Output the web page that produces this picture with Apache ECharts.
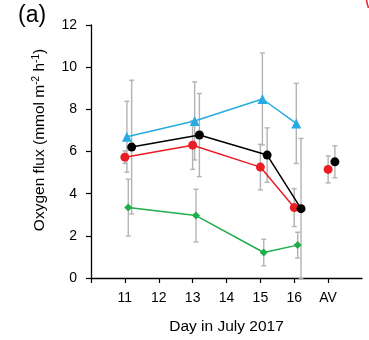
<!DOCTYPE html>
<html>
<head>
<meta charset="utf-8">
<script src="https://cdn.jsdelivr.net/npm/echarts@6/dist/echarts.min.js"></script>
<style>
    html, body { margin: 0; padding: 0; background: #fff; }
    #chart { width: 369px; height: 340px; }
</style>
</head>
<body>
<div id="chart"></div>
<script>
    // Tick positions and labels on the day axis (17 = average "AV")
    const dayTicks = [10, 11, 12, 13, 14, 15, 16, 17];
    const dayLabelValues = [11, 12, 13, 14, 15, 16, 17];
    const dayLabels = { 11: '11', 12: '12', 13: '13', 14: '14', 15: '15', 16: '16', 17: 'AV' };

    const sampleDays = [11, 13, 15, 16];
    const avDay = 17;

    // Mean and error values
    const redMean = [5.73, 6.30, 5.26, 3.34];
    const redErr = [0.30, 1.15, 1.08, 0.90];
    const redAv = [5.15];
    const redAvErr = [0.64];

    const blackMean = [6.21, 6.78, 5.83, 3.29];
    const blackErr = [3.17, 1.97, 1.29, 3.33];
    const blackAv = [5.51];
    const blackAvErr = [0.76];

    const blueMean = [6.70, 7.45, 8.49, 7.33];
    const blueErr = [1.68, 1.85, 2.18, 1.90];

    const greenMean = [3.34, 2.96, 1.21, 1.56];
    const greenErr = [1.35, 1.25, 0.63, 0.61];

    // small horizontal shifts so the groups don't overlap
    const shift = { red: 0, blue: 0.06, green: 0.1, black: 0.2 };
    const colors = { red: '#ec1c24', blue: '#29abe2', green: '#1fae4b', black: '#000000' };

    function pts(days, vals, dx) {
        return days.map((d, i) => [d + dx, vals[i]]);
    }
    function bars(days, vals, errs, dx) {
        return days.map((d, i) => [d + dx, vals[i] - errs[i], vals[i] + errs[i]]);
    }

    const barData = [].concat(
        bars(sampleDays, blueMean, blueErr, shift.blue),
        bars(sampleDays, redMean, redErr, shift.red),
        bars([avDay], redAv, redAvErr, shift.red),
        bars(sampleDays, greenMean, greenErr, shift.green),
        bars(sampleDays, blackMean, blackErr, shift.black),
        bars([avDay], blackAv, blackAvErr, shift.black)
    );

    function renderErrorBar(params, api) {
        const hi = api.coord([api.value(0), api.value(2)]);
        const lo = api.coord([api.value(0), api.value(1)]);
        const w = 2.5;
        const style = { stroke: '#b3b3b3', lineWidth: 1.4 };
        return {
            type: 'group',
            children: [
                { type: 'line', shape: { x1: hi[0], y1: hi[1], x2: lo[0], y2: lo[1] }, style: style },
                { type: 'line', shape: { x1: hi[0] - w, y1: hi[1], x2: hi[0] + w, y2: hi[1] }, style: style },
                { type: 'line', shape: { x1: lo[0] - w, y1: lo[1], x2: lo[0] + w, y2: lo[1] }, style: style }
            ]
        };
    }

    function lineSeries(name, data, symbol, size) {
        return {
            name: name,
            type: 'line',
            data: data,
            symbol: symbol,
            symbolSize: size,
            color: colors[name],
            lineStyle: { width: 1.5, color: colors[name] },
            itemStyle: { color: colors[name] },
            z: 3
        };
    }

    const myChart = echarts.init(document.getElementById('chart'), null, { renderer: 'canvas' });
    const baseFont = 'Liberation Sans, Arial, sans-serif';

    const option = {
        animation: false,
        textStyle: { fontFamily: baseFont },
        grid: { left: 91, right: 7, top: 25, bottom: 62 },
        xAxis: {
            type: 'value',
            min: 10,
            max: 18,
            interval: 1,
            splitLine: { show: false },
            axisLine: { lineStyle: { color: '#000', width: 1.3 } },
            axisTick: { length: 5, lineStyle: { color: '#000', width: 1.2 }, customValues: dayTicks },
            axisLabel: {
                customValues: dayLabelValues,
                formatter: v => dayLabels[v] || '',
                color: '#000', fontSize: 14, margin: 13, fontFamily: baseFont
            },
            name: 'Day in July 2017',
            nameLocation: 'middle',
            nameGap: 41,
            nameTextStyle: { color: '#000', fontSize: 15.5, fontFamily: baseFont }
        },
        yAxis: {
            type: 'value',
            min: 0,
            max: 12,
            interval: 2,
            splitLine: { show: false },
            axisLine: { show: true, lineStyle: { color: '#000', width: 1.3 } },
            axisTick: { show: true, length: 5, lineStyle: { color: '#000', width: 1.2 } },
            axisLabel: { color: '#000', fontSize: 14, margin: 14, fontFamily: baseFont },
            name: '{t|Oxygen flux (mmol m}{s|-2}{t| h}{s|-1}{t|)}',
            nameLocation: 'middle',
            nameRotate: 90,
            nameGap: 42,
            nameTextStyle: {
                padding: [0, 0, 0, 23],
                rich: {
                    t: { fontSize: 15.5, color: '#000', fontFamily: baseFont },
                    s: { fontSize: 10, color: '#000', fontFamily: baseFont, padding: [0, 0, 8, 0] }
                }
            }
        },
        graphic: [
            { type: 'text', left: 18, top: 4, style: { text: '(a)', fontSize: 23, fill: '#000', fontFamily: baseFont } },
            // sliver of a red mark cut off at the top-right corner of the source figure
            { type: 'polyline', shape: { points: [[366.5, 0], [367.3, 4], [368.5, 8]] }, style: { fill: 'none', stroke: '#e8232a', lineWidth: 1.5 }, silent: true }
        ],
        series: [
            {
                type: 'custom',
                renderItem: renderErrorBar,
                data: barData,
                encode: { x: 0, y: [1, 2] },
                clip: false,
                z: 1
            },
            lineSeries('blue', pts(sampleDays, blueMean, shift.blue), 'triangle', 10),
            lineSeries('red', pts(sampleDays, redMean, shift.red), 'circle', 9),
            lineSeries('green', pts(sampleDays, greenMean, shift.green), 'diamond', 8),
            lineSeries('black', pts(sampleDays, blackMean, shift.black), 'circle', 9),
            lineSeries('red', pts([avDay], redAv, shift.red), 'circle', 9),
            lineSeries('black', pts([avDay], blackAv, shift.black), 'circle', 9)
        ]
    };

    myChart.setOption(option);
    window.addEventListener('resize', () => myChart.resize());
</script>
</body>
</html>
